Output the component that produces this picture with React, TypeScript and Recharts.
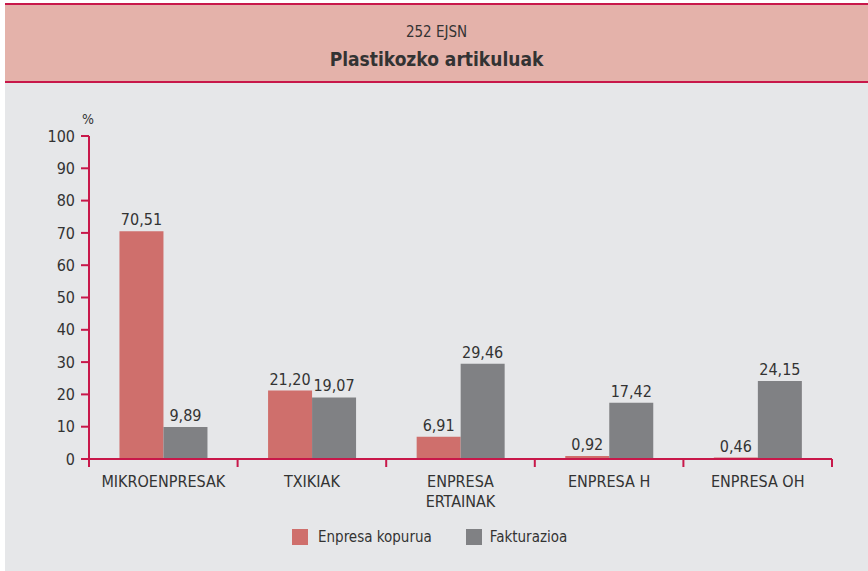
import React from "react";
import { BarChart, Bar, XAxis, YAxis, LabelList } from "recharts";

const categories = ["MIKROENPRESAK", "TXIKIAK", "ENPRESA\nERTAINAK", "ENPRESA H", "ENPRESA OH"];
const enpresaKopurua = [70.51, 21.2, 6.91, 0.92, 0.46];
const fakturazioa = [9.89, 19.07, 29.46, 17.42, 24.15];
const yTicks = [0, 10, 20, 30, 40, 50, 60, 70, 80, 90, 100];
const seriesNames = ["Enpresa kopurua", "Fakturazioa"];
const subtitle = "252 EJSN";
const title = "Plastikozko artikuluak";

const FONT = "'Liberation Sans Narrow', 'DejaVu Sans Condensed', 'Open Sans', sans-serif";
const CRIMSON = "#c8184a";
const RED = "#cf6f6c";
const GRAY = "#808184";
const TEXT = "#333333";

const data = categories.map((c, i) => ({ name: c, a: enpresaKopurua[i], b: fakturazioa[i] }));

const fmt = (v: any) => Number(v).toFixed(2).replace(".", ",");

const XTick = (props: any) => {
  const { x, y, payload, width, visibleTicksCount, index } = props;
  const bw = width / visibleTicksCount;
  const lines = String(payload.value).split("\n");
  const left = x - bw / 2;
  const right = x + bw / 2;
  return (
    <g>
      <line x1={left} x2={left} y1={y - 8} y2={y} stroke={CRIMSON} strokeWidth={2} />
      {index === visibleTicksCount - 1 && (
        <line x1={right} x2={right} y1={y - 8} y2={y} stroke={CRIMSON} strokeWidth={2} />
      )}
      <text x={x} y={y + 20} textAnchor="middle" fill={TEXT} fontSize={16} fontFamily={FONT}>
        {lines.map((l, i) => (
          <tspan key={i} x={x} dy={i === 0 ? 0 : 20}>
            {l}
          </tspan>
        ))}
      </text>
    </g>
  );
};

export default function App() {
  return (
    <div style={{ position: "absolute", left: 0, top: 0, width: 868, height: 571, background: "#ffffff", fontFamily: FONT }}>
      <div
        style={{
          position: "absolute",
          left: 5,
          top: 3,
          width: 863,
          height: 76,
          background: "#e4b2aa",
          borderTop: `2px solid ${CRIMSON}`,
          borderBottom: `2px solid ${CRIMSON}`,
          color: TEXT,
          textAlign: "center",
        }}
      >
        <div style={{ position: "absolute", left: 0, width: 863, top: 17, fontSize: 15, lineHeight: "20px" }}>{subtitle}</div>
        <div style={{ position: "absolute", left: 0, width: 863, top: 41, fontSize: 19, lineHeight: "26px", fontWeight: "bold" }}>{title}</div>
      </div>
      <div style={{ position: "absolute", left: 5, top: 83, width: 863, height: 488, background: "#e6e7e9" }}>
        <div style={{ position: "absolute", left: 77, top: 28, fontSize: 14, color: TEXT }}>%</div>
        <BarChart
          width={863}
          height={488}
          data={data}
          margin={{ top: 53, right: 36, left: 0, bottom: 0 }}
          barCategoryGap="20.5%"
          barGap={0}
        >
          <YAxis
            type="number"
            domain={[0, 100]}
            ticks={yTicks}
            width={84}
            axisLine={{ stroke: CRIMSON, strokeWidth: 2 }}
            tickLine={{ stroke: CRIMSON, strokeWidth: 2 }}
            tickSize={8}
            tickMargin={6}
            tick={{ fill: TEXT, fontSize: 16, fontFamily: FONT }}
            interval={0}
          />
          <XAxis
            dataKey="name"
            height={112}
            axisLine={{ stroke: CRIMSON, strokeWidth: 2 }}
            tickLine={false}
            tick={<XTick />}
            interval={0}
          />
          <Bar dataKey="a" name={seriesNames[0]} fill={RED} isAnimationActive={false}>
            <LabelList dataKey="a" position="top" offset={6} formatter={fmt} fill={TEXT} fontSize={16} fontFamily={FONT} />
          </Bar>
          <Bar dataKey="b" name={seriesNames[1]} fill={GRAY} isAnimationActive={false}>
            <LabelList dataKey="b" position="top" offset={6} formatter={fmt} fill={TEXT} fontSize={16} fontFamily={FONT} />
          </Bar>
        </BarChart>
        <div style={{ position: "absolute", left: 287, top: 445, display: "flex", alignItems: "center", fontSize: 15, color: TEXT }}>
          <span style={{ width: 16, height: 16, background: RED, display: "inline-block", marginRight: 10 }} />
          <span style={{ marginRight: 34 }}>{seriesNames[0]}</span>
          <span style={{ width: 16, height: 16, background: GRAY, display: "inline-block", marginRight: 8 }} />
          <span>{seriesNames[1]}</span>
        </div>
      </div>
    </div>
  );
}
